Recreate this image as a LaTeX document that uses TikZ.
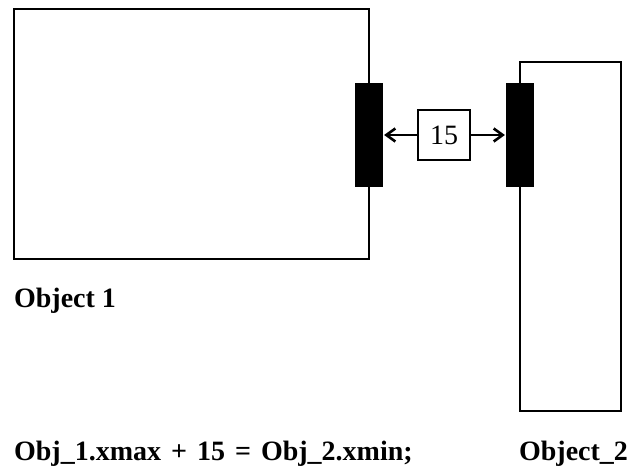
\documentclass[tikz,border=0pt]{standalone}
\usepackage{fontspec}
\setmainfont{Liberation Serif}
\usetikzlibrary{arrows.meta}

\begin{document}
\begin{tikzpicture}[x=1pt, y=-1pt, line width=2.2pt,
    gripbar/.style={fill=black, draw=none, minimum width=28pt, minimum height=104pt, inner sep=0pt},
    gapbox/.style={draw, line width=2pt, minimum width=52pt, minimum height=50pt, inner sep=0pt,
      font=\fontsize{28}{30}\selectfont},
    caption/.style={font=\bfseries\fontsize{28}{30}\selectfont, inner sep=0pt},
    gaparrow/.style={-{Straight Barb[length=9pt, width=13pt, line width=2.6pt]}, line width=2.2pt}]
  \useasboundingbox (0,0) rectangle (634,469);
  % the two objects
  \draw (14,9) rectangle (369,259);
  \draw (520,62) rectangle (621,411);
  % their facing edges
  \node[gripbar] (bar1) at (369,135) {};
  \node[gripbar] (bar2) at (520,135) {};
  % the gap
  \node[gapbox] (gap) at (444,135) {15};
  \draw[gaparrow] (gap.west) -- (bar1.east);
  \draw[gaparrow] (gap.east) -- (bar2.west);
  % labels
  \node[caption, anchor=base west] (obj1) at (13,307) {Object 1};
  \node[caption, anchor=base west] (rule) at (13,460)
    {\spaceskip=10pt\relax Obj\_1.xmax + 15 = Obj\_2.xmin;};
  \node[caption, anchor=base west] (obj2) at (518,460) {Object\_2};
\end{tikzpicture}
\end{document}
